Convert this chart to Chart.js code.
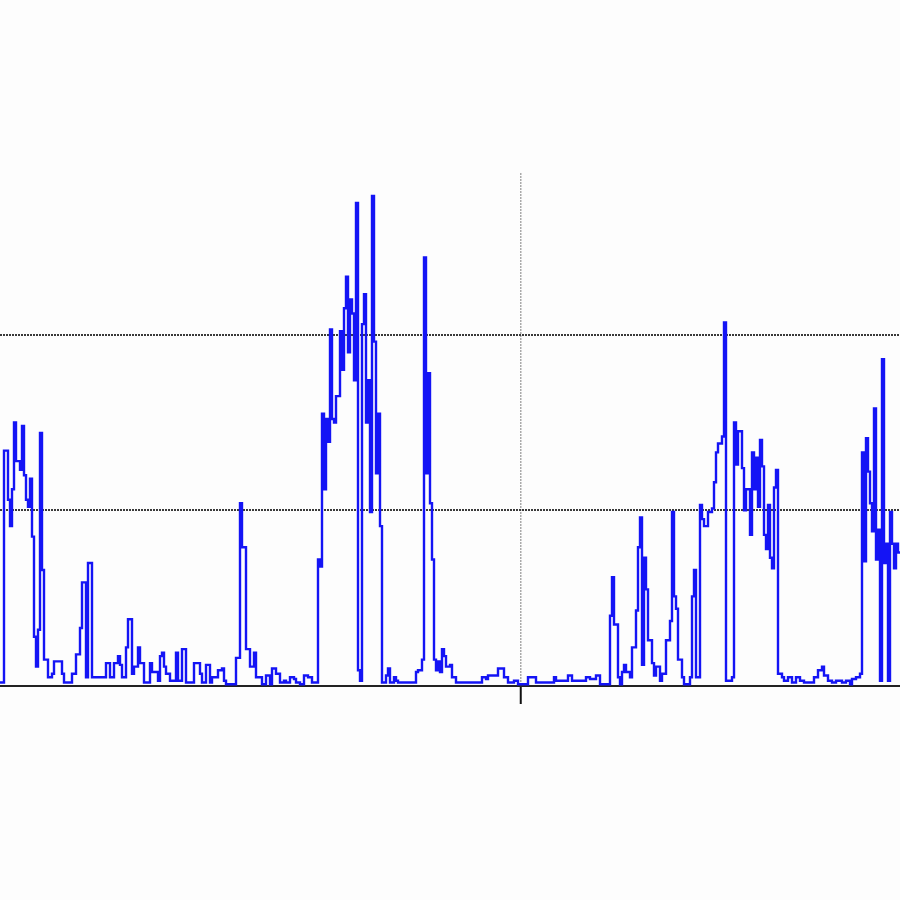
<!DOCTYPE html>
<html>
<head>
<meta charset="utf-8">
<script src="https://cdn.jsdelivr.net/npm/chart.js@4"></script>
<style>
  html, body { margin: 0; padding: 0; background: #fdfdfd; }
  #wrap { width: 900px; height: 900px; }
</style>
</head>
<body>
<div id="wrap"><canvas id="signalChart"></canvas></div>
<script>
// Signal level, one value per sample
const levels = [
  0.02,0.02,1.34,1.34,1.06,0.91,1.12,1.50,1.28,1.28,1.23,1.48,1.20,1.06,1.02,1.18,0.85,0.28,0.11,0.32,1.44,0.66,0.15,0.15,0.05,
  0.05,0.07,0.14,0.14,0.14,0.14,0.07,0.02,0.02,0.02,0.02,0.07,0.07,0.18,0.18,0.33,0.59,0.59,0.05,0.70,0.70,0.05,0.05,0.05,0.05,
  0.05,0.05,0.05,0.13,0.13,0.05,0.05,0.13,0.13,0.17,0.12,0.05,0.05,0.22,0.38,0.38,0.07,0.11,0.11,0.22,0.13,0.13,0.02,0.02,0.02,
  0.13,0.08,0.08,0.08,0.03,0.17,0.19,0.11,0.07,0.07,0.03,0.03,0.03,0.19,0.03,0.03,0.21,0.21,0.02,0.02,0.02,0.02,0.13,0.13,0.13,
  0.07,0.02,0.02,0.12,0.12,0.02,0.05,0.05,0.05,0.09,0.09,0.10,0.03,0.01,0.01,0.01,0.01,0.01,0.16,0.16,1.04,0.79,0.79,0.21,0.21,
  0.11,0.11,0.19,0.05,0.05,0.05,0.01,0.01,0.06,0.06,0.01,0.10,0.10,0.07,0.07,0.02,0.02,0.03,0.02,0.02,0.05,0.05,0.04,0.02,0.02,
  0.01,0.01,0.06,0.06,0.05,0.05,0.02,0.02,0.02,0.72,0.68,1.55,1.12,1.52,1.39,2.03,1.52,1.50,1.65,1.65,2.02,1.80,2.15,2.33,1.90,
  2.20,2.12,1.74,2.75,0.09,0.03,2.06,2.23,1.50,1.74,0.99,2.79,1.96,1.21,1.55,0.91,0.02,0.02,0.06,0.10,0.02,0.02,0.05,0.03,0.02,
  0.02,0.02,0.02,0.02,0.02,0.02,0.02,0.02,0.08,0.09,0.09,0.15,2.44,1.21,1.78,1.04,0.72,0.15,0.09,0.14,0.08,0.21,0.17,0.11,0.11,
  0.12,0.05,0.05,0.02,0.02,0.02,0.02,0.02,0.02,0.02,0.02,0.02,0.02,0.02,0.02,0.02,0.05,0.05,0.04,0.06,0.06,0.06,0.06,0.06,0.10,
  0.10,0.10,0.05,0.05,0.02,0.02,0.02,0.03,0.03,0.01,0.01,0.01,0.01,0.01,0.05,0.05,0.05,0.05,0.02,0.02,0.02,0.02,0.02,0.02,0.02,
  0.02,0.02,0.05,0.03,0.03,0.03,0.03,0.03,0.03,0.06,0.06,0.03,0.03,0.03,0.03,0.03,0.03,0.03,0.05,0.05,0.04,0.04,0.04,0.06,0.06,
  0.01,0.01,0.01,0.01,0.01,0.40,0.62,0.35,0.35,0.05,0.01,0.08,0.12,0.08,0.08,0.05,0.22,0.22,0.43,0.79,0.96,0.12,0.73,0.55,0.26,
  0.26,0.13,0.06,0.11,0.11,0.03,0.07,0.07,0.26,0.26,0.37,0.99,0.51,0.44,0.15,0.15,0.05,0.01,0.01,0.01,0.05,0.51,0.66,0.05,0.05,
  1.03,0.95,0.91,0.91,0.99,0.99,1.01,1.16,1.33,1.38,1.38,1.42,2.07,0.03,0.03,0.03,0.05,1.50,1.26,1.45,1.45,1.24,1.00,1.12,1.12,
  0.86,1.33,1.12,1.30,1.02,1.40,1.25,0.86,0.78,1.03,0.73,0.67,1.13,1.23,0.07,0.07,0.05,0.03,0.03,0.05,0.05,0.02,0.02,0.05,0.05,
  0.03,0.03,0.02,0.02,0.02,0.02,0.02,0.05,0.05,0.09,0.09,0.11,0.06,0.06,0.03,0.03,0.02,0.02,0.03,0.03,0.03,0.02,0.02,0.03,0.03,
  0.01,0.04,0.04,0.05,0.05,0.07,1.33,0.71,1.41,1.22,1.04,0.88,1.58,0.72,0.89,0.03,1.86,0.70,0.81,0.03,0.99,0.81,0.67,0.81,0.76,0.76
];

// sample index for each value
const samples = levels.map((v, i) => i);

// axis marks
const yGridValues = [1, 2];
const xMarkValues = [260.5];
const Y_MAX = 2.92;

const ctx = document.getElementById("signalChart").getContext("2d");

new Chart(ctx, {
  type: "line",
  data: {
    labels: samples,
    datasets: [{
      data: levels,
      stepped: true,
      borderColor: "#1414f5",
      borderWidth: 2.4,
      pointRadius: 0,
      fill: false
    }]
  },
  options: {
    responsive: true,
    maintainAspectRatio: false,
    animation: false,
    layout: { padding: { top: 173, bottom: 196, left: 0, right: 0 } },
    plugins: {
      legend: { display: false },
      tooltip: { enabled: false }
    },
    scales: {
      x: {
        type: "linear",
        min: 0,
        max: samples.length - 1,
        afterBuildTicks: axis => { axis.ticks = xMarkValues.map(v => ({ value: v })); },
        ticks: { display: false },
        grid: {
          color: "#aaa",
          lineWidth: 1.5,
          tickColor: "#111",
          tickWidth: 2,
          tickLength: 18,
          borderDash: [2, 1]
        },
        border: { display: true, color: "#222", width: 2, dash: [2, 1] }
      },
      y: {
        min: 0,
        max: Y_MAX,
        afterBuildTicks: axis => { axis.ticks = yGridValues.map(v => ({ value: v })); },
        ticks: { display: false },
        grid: {
          color: "#3a3a3a",
          lineWidth: 2,
          drawTicks: false,
          borderDash: [2, 1]
        },
        border: { display: false, dash: [2, 1] }
      }
    }
  }
});
</script>
</body>
</html>
